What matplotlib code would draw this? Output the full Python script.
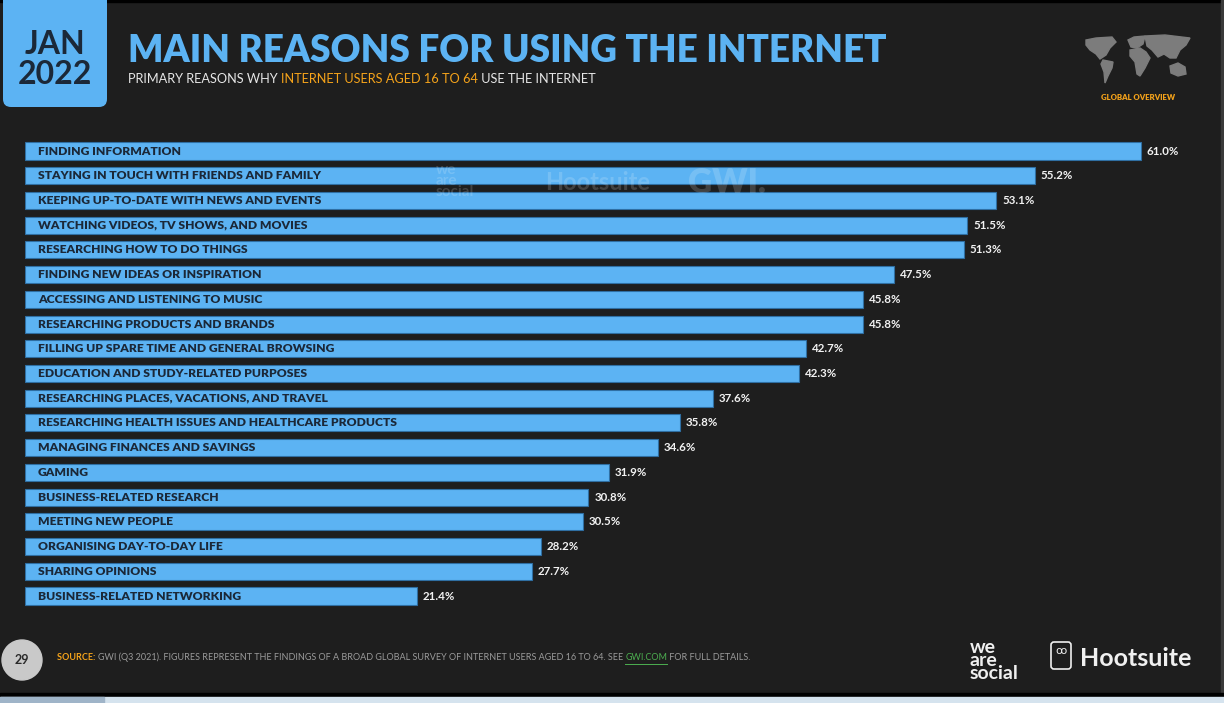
import matplotlib
matplotlib.use("Agg")
import matplotlib.pyplot as plt
from matplotlib.patches import FancyBboxPatch, Rectangle, Circle, Polygon

W, H = 1224, 703

reasons = [
    "FINDING INFORMATION",
    "STAYING IN TOUCH WITH FRIENDS AND FAMILY",
    "KEEPING UP-TO-DATE WITH NEWS AND EVENTS",
    "WATCHING VIDEOS, TV SHOWS, AND MOVIES",
    "RESEARCHING HOW TO DO THINGS",
    "FINDING NEW IDEAS OR INSPIRATION",
    "ACCESSING AND LISTENING TO MUSIC",
    "RESEARCHING PRODUCTS AND BRANDS",
    "FILLING UP SPARE TIME AND GENERAL BROWSING",
    "EDUCATION AND STUDY-RELATED PURPOSES",
    "RESEARCHING PLACES, VACATIONS, AND TRAVEL",
    "RESEARCHING HEALTH ISSUES AND HEALTHCARE PRODUCTS",
    "MANAGING FINANCES AND SAVINGS",
    "GAMING",
    "BUSINESS-RELATED RESEARCH",
    "MEETING NEW PEOPLE",
    "ORGANISING DAY-TO-DAY LIFE",
    "SHARING OPINIONS",
    "BUSINESS-RELATED NETWORKING",
]
shares = [61.0, 55.2, 53.1, 51.5, 51.3, 47.5, 45.8, 45.8, 42.7, 42.3,
          37.6, 35.8, 34.6, 31.9, 30.8, 30.5, 28.2, 27.7, 21.4]

BG = "#1e1e1e"
BLUE = "#5cb3f3"
NAVY = "#1b2838"
ORANGE = "#f5a31a"
SANS = ["Lato", "DejaVu Sans"]

fig = plt.figure(figsize=(W / 100, H / 100), dpi=100, facecolor=BG)
renderer = fig.canvas.get_renderer()


def fx(x):
    return x / W


def fy(y):
    return 1 - y / H


def ptext(x, y, s, **kw):
    return fig.text(fx(x), fy(y), s, **kw)


def fit(t, width):
    # scale font so the text spans roughly the width seen in the reference
    w = t.get_window_extent(renderer).width
    t.set_fontsize(t.get_fontsize() * width / w)


def chain(x, y, parts, size, family):
    out = []
    for s, color, weight in parts:
        t = ptext(x, y, s, color=color, fontsize=size, family=family,
                  weight=weight, va="baseline")
        x = t.get_window_extent(renderer).x1
        out.append(t)
    return out


# frame decorations
deco = fig.add_axes([0, 0, 1, 1], zorder=0)
deco.set_xlim(0, W)
deco.set_ylim(H, 0)
deco.axis("off")
deco.add_patch(Rectangle((0, 0), W, 2, color="black"))
deco.add_patch(Rectangle((1221, 0), 3, H, color="#3a3a3a"))
deco.add_patch(Rectangle((0, 693), W, 4, color="black"))
deco.add_patch(Rectangle((0, 697), W, 6, color="#d5e3ee"))
deco.add_patch(Rectangle((0, 697), 104, 6, color="#9fb4c8"))
deco.add_patch(FancyBboxPatch((3, -20), 104, 127, boxstyle="round,pad=0,rounding_size=8",
                              facecolor=BLUE, edgecolor="none"))
deco.add_patch(Circle((22, 660), 20, color="#c9c9c9"))

# rough world map icon
grey = "#7c7c7c"
continents = [
    [(1086, 40), (1096, 38), (1112, 37), (1116, 42), (1110, 48), (1106, 55), (1100, 59),
     (1096, 54), (1090, 50), (1086, 45)],
    [(1103, 60), (1113, 62), (1112, 68), (1108, 76), (1105, 83), (1104, 72), (1101, 64)],
    [(1128, 40), (1134, 37), (1145, 36), (1143, 44), (1137, 48), (1131, 47)],
    [(1130, 50), (1140, 48), (1146, 52), (1150, 58), (1145, 68), (1140, 76), (1137, 74),
     (1135, 62), (1130, 56)],
    [(1145, 36), (1165, 35), (1190, 38), (1186, 45), (1180, 50), (1176, 58), (1170, 58),
     (1164, 54), (1158, 57), (1152, 50), (1147, 46)],
    [(1170, 66), (1178, 63), (1185, 67), (1186, 74), (1178, 76), (1171, 73)],
]
for poly in continents:
    deco.add_patch(Polygon(poly, closed=True, color=grey))

# bars
spacing = (596 - 151) / 18
top = 151 - spacing / 2
bottom = 596 + spacing / 2
ax = fig.add_axes([fx(25), fy(bottom), fx(1200 - 25), (bottom - top) / H], zorder=2)
ax.set_facecolor("none")
scale = (1141 - 25) / 61.0
ax.set_xlim(0, (1200 - 25) / scale)
ax.set_ylim(len(reasons) - 0.5, -0.5)
ax.axis("off")
pos = list(range(len(reasons)))
ax.barh(pos, shares, height=0.69, color=BLUE, edgecolor="#2f6fa3", linewidth=0.8)

for i, (name, v) in enumerate(zip(reasons, shares)):
    ax.text(13 / scale, i, name, color=NAVY, fontsize=8.7, family=SANS,
            weight="heavy", va="center", ha="left")
    ax.text(v + 6 / scale, i, f"{v:.1f}%", color="#f2f2f2", fontsize=8.3, family=SANS,
            weight="bold", va="center", ha="left")

# watermark
ptext(436, 196, "we\nare\nsocial", color="white", alpha=0.16, fontsize=11,
      family=SANS, weight="bold", linespacing=0.75)
ptext(545, 190, "Hootsuite", color="white", alpha=0.16, fontsize=17, family=SANS, weight="bold")
ptext(688, 193, "GWI.", color="white", alpha=0.16, fontsize=24, family=SANS, weight="heavy")

# header
ptext(55, 45, "JAN", color=NAVY, fontsize=23, family=SANS, weight="bold", ha="center", va="center")
ptext(55, 74, "2022", color=NAVY, fontsize=23, family=SANS, weight="bold", ha="center", va="center")
title = ptext(128, 62, "MAIN REASONS FOR USING THE INTERNET", color=BLUE, fontsize=25,
              family=SANS, weight="heavy", va="baseline")
fit(title, 760)
chain(128, 83, [("PRIMARY REASONS WHY ", "#e6e6e6", "normal"),
                ("INTERNET USERS AGED 16 TO 64", ORANGE, "normal"),
                (" USE THE INTERNET", "#e6e6e6", "normal")], 9.2, SANS)
ptext(1138, 97, "GLOBAL OVERVIEW", color=ORANGE, fontsize=5.6, family=SANS,
      weight="heavy", ha="center", va="center")

# footer
ptext(22, 660, "29", color="#2a2a2a", fontsize=9, family=SANS, weight="bold",
      ha="center", va="center")
parts = chain(57, 660, [("SOURCE: ", ORANGE, "bold"),
                        ("GWI (Q3 2021). FIGURES REPRESENT THE FINDINGS OF A BROAD GLOBAL SURVEY "
                         "OF INTERNET USERS AGED 16 TO 64. SEE ", "#9a9a9a", "normal"),
                        ("GWI.COM", "#4caf50", "normal"),
                        (" FOR FULL DETAILS.", "#9a9a9a", "normal")], 6.5, SANS)
link = parts[2].get_window_extent(renderer)
deco.plot([link.x0, link.x1], [H - link.y0 + 2, H - link.y0 + 2], color="#4caf50", lw=0.7)

ptext(970, 679, "we\nare\nsocial", color="#f0f0f0", fontsize=14, family=SANS,
      weight="bold", linespacing=0.72, va="baseline")
deco.add_patch(FancyBboxPatch((1051, 642), 20, 27, boxstyle="round,pad=0,rounding_size=3",
                              facecolor="none", edgecolor="#f0f0f0", lw=1.2))
ptext(1061, 651, "ꝏ", color="#f0f0f0", fontsize=8, family=["DejaVu Sans"],
      ha="center", va="center")
ptext(1080, 666, "Hootsuite", color="#f0f0f0", fontsize=18, family=SANS,
      weight="bold", va="baseline")

fig.savefig("out.png", dpi=100, facecolor=BG)
